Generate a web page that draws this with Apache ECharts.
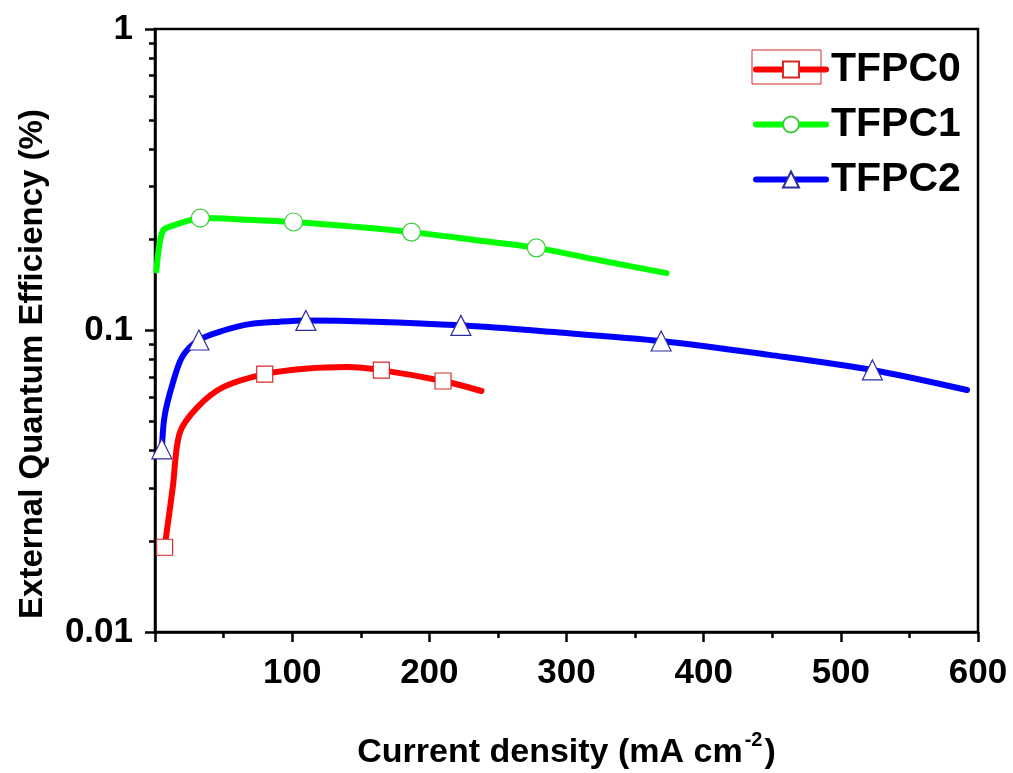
<!DOCTYPE html>
<html>
<head>
<meta charset="utf-8">
<title>External Quantum Efficiency vs Current density</title>
<script src="https://cdn.jsdelivr.net/npm/echarts@6/dist/echarts.min.js"></script>
<style>
  html, body { margin: 0; padding: 0; background: #fff; }
  #chart { width: 1013px; height: 773px; }
</style>
</head>
<body>
<div id="chart"></div>
<script>
// Curves: [current density (mA cm^-2), EQE (%)]
const tfpc0Points = [
  [7, 0.0191], [10, 0.024], [13, 0.0303], [18, 0.0457], [31, 0.0557],
  [50, 0.065], [80, 0.0717], [111, 0.0748], [140, 0.0757], [165, 0.0739],
  [210, 0.068], [238, 0.063]
];
const tfpc0Marks = [0, 6, 9, 10];

const tfpc1Points = [
  [1, 0.158], [3, 0.19], [6, 0.215], [12, 0.222], [25, 0.232],
  [33, 0.236], [60, 0.234], [101, 0.229], [150, 0.220], [187, 0.212],
  [232, 0.200], [278, 0.188], [324, 0.171], [373, 0.155]
];
const tfpc1Marks = [5, 7, 9, 11];

const tfpc2Points = [
  [5, 0.0405], [7, 0.052], [13, 0.067], [20, 0.082], [32, 0.093],
  [50, 0.100], [69, 0.105], [91, 0.107], [110, 0.108], [160, 0.107],
  [223, 0.104], [288, 0.099], [369, 0.0923], [448, 0.083], [523, 0.074],
  [592, 0.0635]
];
const tfpc2Marks = [0, 4, 8, 10, 12, 14];

const seriesNames = ['TFPC0', 'TFPC1', 'TFPC2'];
const xTicks = { min: 0, max: 600, interval: 100 };
const yTicks = { min: 0.01, max: 1 };

const FONT = '"Liberation Sans", Arial, sans-serif';

function toItems(points, marks) {
  return points.map((p, i) => marks.includes(i) ? { value: p } : { value: p, symbol: 'none' });
}

function lineSeries(name, points, marks, color, edge, symbol, size) {
  return {
    name: name,
    type: 'line',
    data: toItems(points, marks),
    smooth: 0.3,
    symbol: symbol,
    symbolSize: size,
    showSymbol: true,
    showAllSymbol: true,
    lineStyle: { color: color, width: 6, cap: 'round', join: 'round' },
    itemStyle: { color: '#ffffff', borderColor: edge, borderWidth: 1.2 },
    emphasis: { disabled: true },
    z: 3
  };
}

const chart = echarts.init(document.getElementById('chart'), null, { renderer: 'canvas' });

chart.setOption({
  backgroundColor: '#ffffff',
  animation: false,
  grid: {
    left: 155, top: 29, width: 823, height: 603,
    outerBoundsMode: 'none',
    containLabel: false,
    show: true, borderColor: '#000', borderWidth: 2.5, backgroundColor: 'transparent'
  },
  legend: {
    data: seriesNames,
    orient: 'vertical',
    left: 748,
    top: 44,
    itemWidth: 70,
    itemHeight: 20,
    itemGap: 14,
    lineStyle: { width: 6 },
    textStyle: { fontFamily: FONT, fontSize: 41, fontWeight: 'bold', color: '#000', lineHeight: 40 }
  },
  xAxis: {
    type: 'value',
    min: xTicks.min, max: xTicks.max, interval: xTicks.interval,
    axisLine: { show: true, lineStyle: { color: '#000', width: 2.5 } },
    axisTick: { show: true, inside: false, length: 10, lineStyle: { color: '#000', width: 2.5 } },
    minorTick: { show: true, splitNumber: 2, length: 6, lineStyle: { color: '#000', width: 2.5 } },
    splitLine: { show: false },
    axisLabel: {
      margin: 24,
      fontFamily: FONT, fontSize: 35, fontWeight: 'bold', color: '#000',
      formatter: v => (v === 0 ? '' : String(v))
    },
    name: '{a|Current density (mA cm}{s|-2}{a|)}',
    nameLocation: 'middle',
    nameGap: 98,
    nameTextStyle: {
      rich: {
        a: { fontFamily: FONT, fontSize: 34, fontWeight: 'bold', color: '#000', lineHeight: 40, verticalAlign: 'bottom' },
        s: { fontFamily: FONT, fontSize: 20, fontWeight: 'bold', color: '#000', lineHeight: 40, verticalAlign: 'top', padding: [0, 2, 0, 2] }
      }
    }
  },
  yAxis: {
    type: 'log',
    logBase: 10,
    min: yTicks.min, max: yTicks.max,
    axisLine: { show: true, lineStyle: { color: '#000', width: 2.5 } },
    axisTick: { show: true, inside: false, length: 10, lineStyle: { color: '#000', width: 2.5 } },
    minorTick: { show: true, splitNumber: 9, length: 6, lineStyle: { color: '#000', width: 2.5 } },
    splitLine: { show: false },
    axisLabel: {
      margin: 22,
      fontFamily: FONT, fontSize: 35, fontWeight: 'bold', color: '#000',
      formatter: v => String(+v.toPrecision(3))
    }
  },
  graphic: [
    {
      type: 'text',
      x: 33, y: 364,
      rotation: Math.PI / 2,
      style: {
        text: 'External Quantum Efficiency (%)',
        fontFamily: FONT, fontSize: 33, fontWeight: 'bold', fill: '#000',
        align: 'center', verticalAlign: 'middle'
      }
    },
    {
      type: 'rect',
      shape: { x: 752, y: 50, width: 69, height: 34 },
      style: { fill: 'none', stroke: '#d42a2a', lineWidth: 1 },
      z: 10
    }
  ],
  series: [
    lineSeries('TFPC0', tfpc0Points, tfpc0Marks, '#ff0000', '#d42a2a', 'rect', 16),
    lineSeries('TFPC1', tfpc1Points, tfpc1Marks, '#00ff00', '#3ccc3c', 'circle', 18),
    lineSeries('TFPC2', tfpc2Points, tfpc2Marks, '#0000ff', '#2e2e9e', 'triangle', 20)
  ]
});
</script>
</body>
</html>
